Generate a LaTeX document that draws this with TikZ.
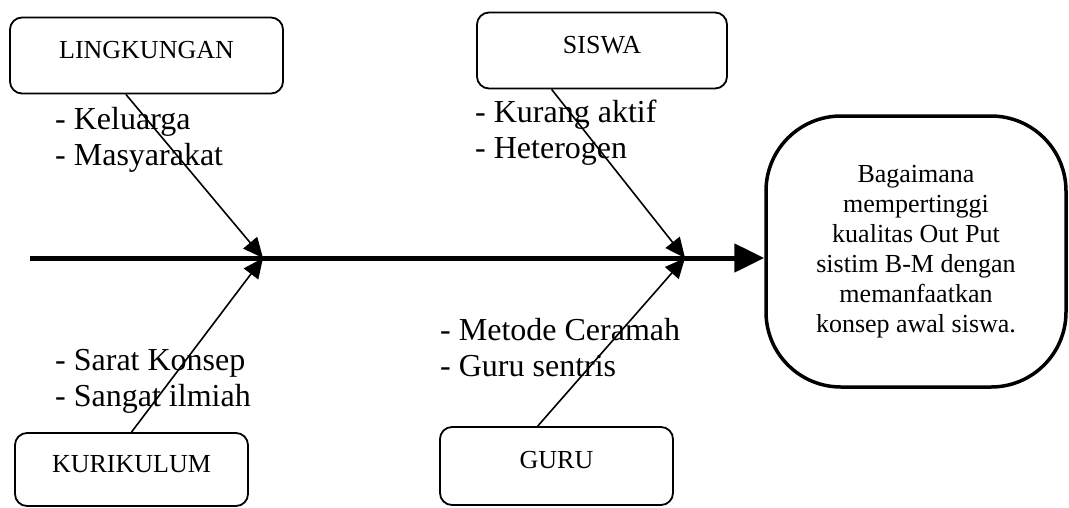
\documentclass[tikz,border=0pt]{standalone}
\usepackage{fontspec}
\setmainfont{Liberation Serif}
\usetikzlibrary{arrows.meta,positioning,calc}
\tikzset{
  cause/.style={draw,line width=1.8pt,rounded corners=12pt,minimum height=76pt,font=\fontsize{26}{30}\selectfont,text height=18pt,text depth=13pt},
  item/.style={inner sep=0pt,anchor=west,align=left,font=\fontsize{32}{36}\selectfont},
  bone/.style={line width=1.6pt,-{Triangle[length=20pt,width=18pt]}},
}
\begin{document}
\begin{tikzpicture}[x=1pt,y=-1pt]
\useasboundingbox (0,0) rectangle (1069,507);
\node[cause,minimum width=273pt] (L) at (146.5,55.5) {LINGKUNGAN};
\node[cause,minimum width=250pt] (S) at (602,50.5) {SISWA};
\node[cause,minimum width=233pt,minimum height=73pt] (K) at (131.5,469.5) {KURIKULUM\hspace{26pt}};
\node[cause,minimum width=233pt,minimum height=78pt] (G) at (556.5,466) {GURU};
\node[draw,line width=3.5pt,rounded corners=75pt,minimum width=300pt,minimum height=271pt,align=center,font=\fontsize{26}{30}\selectfont] (H) at (916,251.5)
  {Bagaimana\\ mempertinggi\\ kualitas Out Put\\ sistim B-M dengan\\ memanfaatkan\\ konsep awal siswa.};
\node[item] (l1) at (55,140) {- Keluarga\\- Masyarakat};
\node[item] (s1) at (475,133) {- Kurang aktif\\- Heterogen};
\node[item] (k1) at (55,381) {- Sarat Konsep\\- Sangat ilmiah};
\node[item] (g1) at (440,348) {- Metode Ceramah\\- Guru sentris};
\coordinate (T) at (30,258);
\coordinate (J1) at (263,258);
\coordinate (J2) at (685,258);
\draw[line width=5pt,-{Triangle[length=30pt,width=28pt]}] (T) -- (T -| H.west);
\draw[bone] ($(L.south west)!0.425!(L.south east)$) -- (J1);
\draw[bone] (K.north) -- (J1);
\draw[bone] ($(S.south west)!0.3!(S.south east)$) -- (J2);
\draw[bone] ($(G.north west)!0.42!(G.north east)$) -- (J2);
\end{tikzpicture}
\end{document}
